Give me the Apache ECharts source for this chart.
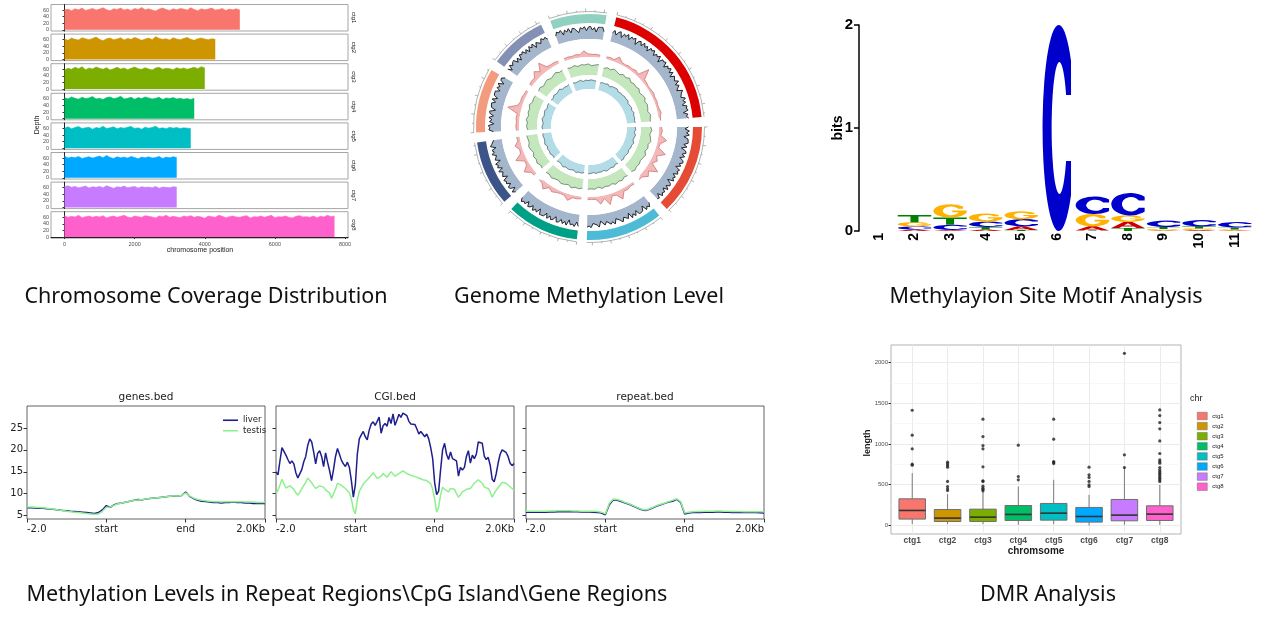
<!DOCTYPE html>
<html>
<head>
<meta charset="utf-8">
<title>methylation report</title>
<script src="https://cdn.jsdelivr.net/npm/echarts@6/dist/echarts.min.js"></script>
<style>
  html, body { margin: 0; padding: 0; background: #fff; }
  #main { width: 1268px; height: 617px; }
</style>
</head>
<body>
<div id="main"></div>
<script>
// ---------------- data ----------------
var ctgNames = ['ctg1', 'ctg2', 'ctg3', 'ctg4', 'ctg5', 'ctg6', 'ctg7', 'ctg8'];
var ctgColors = ['#F8766D', '#CD9600', '#7CAE00', '#00BE67', '#00BFC4', '#00A9FF', '#C77CFF', '#FF61CC'];

// depth per 100 bp bin
var depthBin = 100;
var depthCtg1 = [60,63,58,64,61,66,59,62,65,60,63,67,61,58,64,62,66,60,63,59,65,62,68,61,64,60,57,63,66,62,59,64,61,65,63,60,67,62,58,64,61,63,66,60,62,65,59,63,61,64,60];
var depthCtg2 = [62,58,65,61,59,66,63,60,64,68,61,57,63,65,60,62,66,59,64,61,67,63,58,62,65,60,69,64,61,63,59,66,62,60,64,67,61,58,63,65,62,60,63,61];
var depthCtg3 = [58,63,60,66,62,68,59,64,61,67,63,60,65,58,62,66,61,64,59,63,67,62,60,65,61,58,64,66,60,63,62,59,65,61,64,60,63,66,62,68,64];
var depthCtg4 = [64,60,66,62,59,65,61,63,67,60,62,58,64,66,61,63,68,60,62,65,59,64,61,66,63,60,62,65,58,63,61,64,60,62,59,61,58,62];
var depthCtg5 = [61,65,59,63,66,60,62,64,58,63,61,67,60,62,65,59,63,61,64,66,60,62,58,64,61,63,67,60,62,59,64,61,63,60,62,61,60];
var depthCtg6 = [66,60,63,61,65,59,62,64,60,63,66,61,68,62,59,64,61,63,60,65,62,58,63,61,64,60,62,65,59,63,61,64,62];
var depthCtg7 = [63,66,61,64,60,62,65,59,63,61,64,60,66,62,58,63,61,65,60,62,64,59,63,61,62,60,64,58,62,61,60,63,62];
var depthCtg8 = [65,60,63,61,66,59,62,64,60,63,61,65,58,62,64,60,63,66,61,59,64,62,60,65,63,61,58,64,62,66,60,63,61,59,64,62,65,60,63,61,57,64,62,60,66,63,59,62,64,61,60,63,65,58,62,61,64,60,63,66,59,62,61,64,60,58,63,65,61,62,60,64,59,63,61,66,62,64];
var depthTicks = [0, 20, 40, 60];
var posTicks = [0, 2000, 4000, 6000, 8000];

// circos
var circLen = [7700, 5050, 4300, 4050, 3650, 3600, 3200, 3150];
var circColors = ['#DC0000', '#E64B35', '#4DBBD5', '#00A087', '#3C5488', '#F39B7F', '#8491B4', '#91D1C2'];
var circBlack = [
  [0.7,0.92,0.6,0.85,0.97,0.55,0.88,0.74,0.99,0.62,0.9,0.8,0.95,0.5,0.86,0.93,0.66,0.98,0.72,0.89,0.58,0.94,0.83,0.99,0.64,0.87,0.76,0.96,0.52,0.91,0.85,0.97,0.6,0.9,0.78,0.99,0.68,0.93,0.56,0.88,0.95,0.7,0.98,0.63,0.86,0.92,0.54,0.97,0.8,0.89,0.66,0.99,0.74,0.91,0.6,0.95,0.84,0.98,0.58,0.9,0.77,0.94],
  [0.88,0.62,0.96,0.75,0.99,0.57,0.9,0.83,0.97,0.65,0.92,0.52,0.87,0.98,0.7,0.94,0.6,0.89,0.99,0.73,0.9,0.56,0.95,0.82,0.98,0.64,0.91,0.77,0.96,0.5,0.86,0.93,0.68,0.99,0.61,0.9,0.8,0.97,0.59,0.92,0.85],
  [0.64,0.93,0.78,0.99,0.55,0.9,0.86,0.97,0.6,0.94,0.72,0.98,0.52,0.89,0.95,0.67,0.99,0.81,0.92,0.58,0.96,0.74,0.9,0.99,0.62,0.87,0.94,0.53,0.97,0.79,0.91,0.66,0.98,0.85,0.93],
  [0.92,0.6,0.97,0.8,0.89,0.54,0.99,0.73,0.94,0.66,0.9,0.98,0.58,0.86,0.95,0.7,0.99,0.62,0.91,0.84,0.97,0.56,0.93,0.77,0.99,0.65,0.88,0.95,0.6,0.92,0.82,0.98,0.7],
  [0.75,0.97,0.58,0.9,0.99,0.66,0.93,0.84,0.98,0.55,0.89,0.95,0.7,0.99,0.6,0.92,0.8,0.97,0.52,0.88,0.94,0.68,0.99,0.76,0.91,0.57,0.96,0.83,0.93,0.64],
  [0.6,0.94,0.85,0.99,0.56,0.9,0.72,0.97,0.63,0.92,0.98,0.54,0.88,0.8,0.96,0.67,0.99,0.59,0.91,0.86,0.97,0.62,0.93,0.75,0.99,0.57,0.9,0.95,0.7],
  [0.9,0.58,0.97,0.76,0.92,0.99,0.62,0.88,0.55,0.95,0.83,0.98,0.68,0.91,0.6,0.96,0.74,0.99,0.57,0.9,0.94,0.65,0.98,0.8,0.92,0.7],
  [0.68,0.95,0.82,0.99,0.57,0.91,0.74,0.97,0.6,0.93,0.88,0.99,0.53,0.9,0.79,0.96,0.64,0.92,0.98,0.7,0.89,0.56,0.95,0.84,0.99,0.66]
];
var circPink = [
  [0.14,0.17,0.12,0.4,0.16,0.13,0.18,0.15,0.22,0.14,0.8,0.2,0.16,0.12,0.15,0.19,0.14,0.17,0.13,0.16,0.22,0.14,0.12],
  [0.16,0.22,0.14,0.55,0.2,0.17,0.7,0.22,0.4,0.18,0.75,0.25,0.45,0.19,0.16],
  [0.17,0.14,0.22,0.19,0.6,0.22,0.16,0.65,0.2,0.5,0.18,0.15,0.17],
  [0.14,0.18,0.16,0.4,0.17,0.15,0.2,0.3,0.16,0.45,0.19,0.15],
  [0.17,0.22,0.55,0.2,0.16,0.65,0.22,0.18,0.4,0.16,0.19],
  [0.16,0.2,0.17,0.22,0.18,0.85,0.27,0.19,0.22,0.17,0.15],
  [0.18,0.22,0.2,0.5,0.24,0.7,0.22,0.19,0.21,0.17],
  [0.17,0.19,0.16,0.22,0.18,0.4,0.2,0.17,0.19,0.16]
];
var circGreen = [
  [0.6,0.72,0.65,0.8,0.7,0.62,0.76,0.68,0.82,0.66,0.74,0.7,0.78,0.64,0.72,0.8,0.67,0.75,0.7,0.63,0.77,0.71,0.68],
  [0.7,0.78,0.66,0.74,0.82,0.69,0.76,0.64,0.8,0.72,0.67,0.75,0.7,0.79,0.68],
  [0.72,0.65,0.78,0.7,0.8,0.66,0.74,0.69,0.77,0.63,0.75,0.71,0.73],
  [0.68,0.76,0.7,0.82,0.65,0.74,0.79,0.67,0.72,0.8,0.69,0.75],
  [0.74,0.68,0.8,0.71,0.77,0.64,0.75,0.82,0.7,0.73,0.78],
  [0.66,0.75,0.7,0.8,0.68,0.76,0.72,0.84,0.69,0.74,0.71],
  [0.7,0.78,0.65,0.73,0.8,0.68,0.75,0.85,0.72,0.77],
  [0.75,0.7,0.8,0.68,0.77,0.73,0.79,0.66,0.74,0.8]
];
var circCyan = [
  [0.62,0.7,0.66,0.75,0.6,0.72,0.68,0.78,0.64,0.71,0.67,0.74,0.69,0.76,0.63,0.7,0.73,0.65,0.77,0.68,0.72,0.66,0.7],
  [0.68,0.74,0.63,0.77,0.7,0.66,0.8,0.69,0.73,0.64,0.75,0.71,0.67,0.76,0.7],
  [0.7,0.64,0.76,0.68,0.73,0.79,0.66,0.72,0.69,0.75,0.65,0.71,0.74],
  [0.66,0.73,0.69,0.78,0.64,0.71,0.75,0.68,0.8,0.7,0.65,0.72],
  [0.72,0.67,0.77,0.7,0.74,0.65,0.79,0.71,0.68,0.75,0.7],
  [0.69,0.76,0.66,0.73,0.8,0.68,0.72,0.77,0.64,0.71,0.74],
  [0.71,0.65,0.78,0.7,0.74,0.83,0.67,0.73,0.69,0.76],
  [0.74,0.68,0.72,0.79,0.66,0.75,0.7,0.77,0.73,0.7]
];

// motif logo (bits per letter)
var logoPos = [1, 2, 3, 4, 5, 6, 7, 8, 9, 10, 11];
var logoA = [0, 0.015, 0.01, 0.015, 0.035, 0, 0.04, 0.06, 0.005, 0.01, 0.005];
var logoC = [0, 0.03, 0.05, 0.05, 0.07, 2.0, 0.17, 0.22, 0.06, 0.06, 0.05];
var logoG = [0, 0.04, 0.13, 0.08, 0.075, 0, 0.12, 0.06, 0.015, 0.015, 0.01];
var logoT = [0, 0.07, 0.07, 0.025, 0.01, 0, 0.005, 0.03, 0.02, 0.02, 0.02];
var bitTicks = [0, 1, 2];

// methylation profiles
var profileTicks = [0, 1, 2, 3];
var profileLabels = ['-2.0', 'start', 'end', '2.0Kb'];
var profileYTicks = [5, 10, 15, 20, 25];
var genesLiver = [6.8,6.8,6.75,6.7,6.7,6.6,6.5,6.4,6.3,6.2,6.1,6.0,5.95,5.9,5.8,5.7,5.6,5.5,5.7,6.3,7.3,6.9,7.5,7.8,7.9,8.1,8.3,8.5,8.7,8.6,8.8,8.9,9.0,9.1,9.2,9.3,9.4,9.4,9.5,9.6,10.4,9.4,8.9,8.5,8.3,8.2,8.1,8.0,8.0,7.9,8.0,8.0,8.1,8.0,8.0,7.9,7.9,7.8,7.8,7.8,7.8];
var genesTestis = [7.0,6.95,6.9,6.85,6.8,6.7,6.6,6.45,6.3,6.2,6.0,5.9,5.8,5.7,5.6,5.5,5.4,5.3,5.4,6.0,6.9,7.0,7.4,7.7,7.9,8.1,8.3,8.5,8.6,8.7,8.8,8.9,9.0,9.1,9.2,9.3,9.4,9.5,9.5,9.6,10.2,9.5,9.0,8.7,8.5,8.4,8.3,8.2,8.2,8.1,8.2,8.2,8.2,8.2,8.2,8.1,8.1,8.1,8.0,8.0,8.0];
var cgiLiver = [15.0,14.3,17.5,20.5,20.8,18.8,17.8,16.9,17.5,16.8,14.8,13.6,14.0,15.5,17.3,18.5,21.0,22.5,21.8,19.5,16.8,19.2,19.8,18.5,16.2,19.3,17.2,15.3,13.0,15.5,18.5,20.3,19.0,17.6,16.8,16.2,17.2,16.0,13.0,9.2,12.0,19.0,22.5,23.4,24.2,23.0,22.3,24.5,25.9,26.4,25.6,26.5,27.5,23.8,25.5,26.0,25.4,27.4,26.0,28.2,25.6,26.8,28.1,27.4,28.4,28.8,27.8,26.5,25.9,26.0,25.8,24.8,23.6,24.2,23.6,23.0,23.6,22.5,20.5,18.0,12.5,9.8,10.6,15.5,20.0,21.5,19.0,17.8,19.5,18.0,18.2,17.5,14.0,16.0,15.4,16.0,18.5,19.8,17.0,18.8,18.0,19.0,21.8,22.2,21.5,18.6,17.8,18.3,16.5,13.3,12.7,14.5,17.0,19.0,20.0,19.6,19.4,18.5,17.0,16.4,16.9];
var cgiTestis = [10.0,10.8,12.0,13.3,12.3,11.3,11.6,11.8,11.5,11.0,10.2,9.7,10.3,11.2,11.6,12.6,13.6,13.8,12.5,11.8,11.2,11.6,11.8,11.4,11.5,10.9,10.5,10.2,9.0,9.2,11.0,12.4,12.6,11.9,11.5,11.2,11.0,10.2,8.8,6.5,5.4,8.6,10.5,11.4,12.2,12.6,13.2,13.6,14.2,14.8,14.6,13.5,13.1,14.0,14.6,14.2,13.8,14.4,15.0,14.5,14.0,14.2,14.6,14.8,15.2,15.0,14.6,14.4,14.2,14.0,13.9,13.8,13.6,13.5,13.2,13.3,13.0,12.6,12.3,11.0,8.8,5.8,7.0,9.8,11.5,11.0,10.6,10.4,11.2,11.6,11.0,10.0,9.2,9.8,10.4,10.8,11.0,11.4,11.2,11.8,12.4,12.7,13.2,13.5,12.4,11.5,11.6,11.2,10.4,9.2,9.6,10.8,11.2,12.0,12.6,12.7,12.4,12.3,11.6,11.2,10.8];
var repeatLiver = [5.8,5.8,5.8,5.8,5.8,5.8,5.85,5.85,5.9,5.9,5.95,5.9,5.9,5.9,5.85,5.85,5.85,5.8,5.75,5.6,5.2,7.5,8.6,8.5,8.2,7.9,7.6,7.2,6.8,6.4,6.2,6.4,6.8,7.2,7.5,7.8,8.1,8.3,8.7,8.0,5.4,5.6,5.7,5.75,5.75,5.8,5.8,5.8,5.85,5.85,5.8,5.8,5.75,5.75,5.75,5.7,5.7,5.7,5.7,5.65,5.6];
var repeatTestis = [6.0,6.0,6.0,6.0,6.0,6.0,6.05,6.05,6.1,6.1,6.1,6.1,6.05,6.05,6.0,6.0,6.0,6.0,5.95,5.8,5.4,7.8,8.8,8.7,8.4,8.0,7.7,7.3,6.9,6.5,6.3,6.5,6.9,7.3,7.6,7.9,8.2,8.5,8.85,8.2,5.6,5.8,5.9,5.95,5.95,6.0,6.0,6.0,6.05,6.05,6.0,6.0,5.95,5.95,5.95,5.9,5.9,5.9,5.9,5.9,5.9];

// DMR length boxplot: [lower whisker, Q1, median, Q3, upper whisker]
var boxStats = [
  [16, 78, 184, 327, 642],
  [16, 49, 90, 196, 384],
  [16, 49, 102, 200, 417],
  [8, 61, 135, 245, 478],
  [16, 65, 151, 270, 560],
  [0, 41, 110, 221, 376],
  [8, 57, 127, 319, 711],
  [8, 61, 139, 241, 499]
];
var boxOutliers = [
  [1414, 1108, 940, 752, 740],
  [777, 756, 736, 715, 540, 478, 450, 429],
  [1304, 1091, 981, 940, 720, 548, 540, 482, 458, 441, 425],
  [985, 601, 560],
  [1304, 1059, 785, 773, 760],
  [715, 621, 589, 540, 499, 478],
  [2113, 867, 711],
  [1418, 1349, 1263, 1186, 1038, 883, 805, 785, 764, 711, 683, 662, 642, 621, 601, 580, 560, 540]
];
var lengthTicks = [0, 500, 1000, 1500, 2000];
var lengthMinor = [250, 750, 1250, 1750];

// ---------------- chart ----------------
var SANS = '"Liberation Sans", Arial, sans-serif';
var NOTO = '"Noto Sans", sans-serif';
var MPL = '"DejaVu Sans", sans-serif';
function plain(v) { return String(v); }

var chart = echarts.init(document.getElementById('main'));
var grid = [], xAxis = [], yAxis = [], series = [], graphic = [];

function txt(x, y, s, size, opt) {
  opt = opt || {};
  graphic.push({
    type: 'text', x: x, y: y, rotation: opt.rot || 0, silent: true,
    style: {
      text: s, fontSize: size, fontFamily: opt.family || SANS, fontWeight: opt.weight || 'normal',
      fill: opt.color || '#1a1a1a', textAlign: opt.align || 'center', textVerticalAlign: 'middle'
    }
  });
}

// --- coverage facets
var depthRows = [depthCtg1, depthCtg2, depthCtg3, depthCtg4, depthCtg5, depthCtg6, depthCtg7, depthCtg8];
depthRows.forEach(function (row, k) {
  var top = 4.5 + k * 29.6;
  var last = k === depthRows.length - 1;
  grid.push({ left: 51, top: top, width: 297, height: 26.5, show: true, borderColor: '#a6a6a6', borderWidth: 1 });
  var g = grid.length - 1;
  xAxis.push({
    type: 'value', gridIndex: g, min: -385, max: 8085,
    axisLine: { show: last, lineStyle: { color: '#222', width: 1 } },
    axisTick: { show: last, customValues: posTicks, length: 2, lineStyle: { color: '#333' } },
    axisLabel: { show: last, customValues: posTicks, formatter: plain, fontSize: 5.5, color: '#4d4d4d', margin: 3, fontFamily: SANS },
    splitLine: { show: false }
  });
  yAxis.push({
    type: 'value', gridIndex: g, min: -3.5, max: 77,
    axisLine: { show: true, lineStyle: { color: '#222', width: 1 } },
    axisTick: { show: true, customValues: depthTicks, length: 2, lineStyle: { color: '#333' } },
    axisLabel: { customValues: depthTicks, formatter: plain, fontSize: 5.5, color: '#4d4d4d', margin: 2, fontFamily: SANS },
    splitLine: { show: false }
  });
  series.push({
    type: 'line', xAxisIndex: g, yAxisIndex: g, symbol: 'none', silent: true, animation: false,
    data: row.map(function (v, i) { return [i * depthBin, v]; }),
    lineStyle: { width: 0.6, color: ctgColors[k] },
    areaStyle: { color: ctgColors[k], opacity: 1 }
  });
  txt(354, top + 13.25, ctgNames[k], 6, { rot: -Math.PI / 2 });
});
txt(37, 125, 'Depth', 7, { rot: Math.PI / 2 });
txt(200, 250, 'chromosome position', 7);

// --- motif logo
var letterPaths = {
  A: 'M38,0 L62,0 L100,100 L76,100 L68,78 L32,78 L24,100 L0,100 Z M38,60 L62,60 L50,26 Z',
  C: 'M88,17.5 A50,50 0 1 0 88,82.5 L88,66 L72.8,66 A24,32 0 1 1 72.8,34 L88,34 Z',
  G: 'M88,17.5 A50,50 0 1 0 99,60 L99,46 L56,46 L56,60 L74.8,60 A24,32 0 1 1 72.8,34 L88,34 Z',
  T: 'M0,0 L100,0 L100,20 L62,20 L62,100 L38,100 L38,20 L0,20 Z'
};
var letterColors = { A: '#CC0000', C: '#0000CC', G: '#FFB300', T: '#008000' };
var letterKeys = ['A', 'C', 'G', 'T'];
var logoData = [];
logoPos.forEach(function (p, i) {
  var stack = [[0, logoA[i]], [1, logoC[i]], [2, logoG[i]], [3, logoT[i]]];
  stack.sort(function (a, b) { return a[1] - b[1]; });
  var y = 0;
  stack.forEach(function (s) {
    if (s[1] > 0) { logoData.push([p, y, y + s[1], s[0]]); y += s[1]; }
  });
});
grid.push({ left: 859, top: 25, width: 397, height: 206 });
var gLogo = grid.length - 1;
xAxis.push({
  type: 'value', gridIndex: gLogo, min: 0.44, max: 11.6,
  axisLine: { show: false }, axisTick: { show: false }, splitLine: { show: false },
  axisLabel: { customValues: logoPos, rotate: 90, fontSize: 14, fontWeight: 'bold', color: '#000', margin: 2, fontFamily: SANS }
});
yAxis.push({
  type: 'value', gridIndex: gLogo, min: 0, max: 2,
  axisLine: { show: true, lineStyle: { color: '#000', width: 1.5 } },
  axisTick: { show: true, customValues: bitTicks, length: 5, lineStyle: { color: '#000', width: 1.5 } },
  axisLabel: { customValues: bitTicks, fontSize: 15, fontWeight: 'bold', color: '#000', margin: 6, fontFamily: SANS },
  splitLine: { show: false }
});
series.push({
  type: 'custom', xAxisIndex: gLogo, yAxisIndex: gLogo, silent: true, animation: false,
  data: logoData, encode: { x: 0, y: [1, 2] },
  renderItem: function (params, api) {
    var p = api.value(0), key = letterKeys[api.value(3)];
    var half = api.value(2) - api.value(1) > 1 ? 0.4 : 0.47;
    var a = api.coord([p - half, api.value(1)]);
    var b = api.coord([p + half, api.value(2)]);
    var h = a[1] - b[1];
    if (h < 0.4) return null;
    return {
      type: 'path',
      shape: { pathData: letterPaths[key], x: a[0], y: b[1], width: b[0] - a[0], height: h, layout: 'cover' },
      style: { fill: letterColors[key] }
    };
  }
});
txt(838, 128, 'bits', 14, { rot: Math.PI / 2, weight: 'bold', color: '#000' });

// --- methylation profiles
var profiles = [
  { left: 27, title: 'genes.bed', liver: genesLiver, testis: genesTestis },
  { left: 276, title: 'CGI.bed', liver: cgiLiver, testis: cgiTestis },
  { left: 526, title: 'repeat.bed', liver: repeatLiver, testis: repeatTestis }
];
profiles.forEach(function (pf, j) {
  grid.push({ left: pf.left, top: 406, width: 238, height: 113, show: true, borderColor: '#3a3a3a', borderWidth: 0.8 });
  var g = grid.length - 1;
  xAxis.push({
    type: 'value', gridIndex: g, min: 0, max: 3,
    axisLine: { show: false }, splitLine: { show: false },
    axisTick: { show: true, customValues: profileTicks, length: 3.5, lineStyle: { color: '#333' } },
    axisLabel: {
      customValues: profileTicks, fontSize: 10, color: '#222', margin: 5, fontFamily: MPL,
      alignMinLabel: 'left', alignMaxLabel: 'right',
      formatter: function (v) { return profileLabels[profileTicks.indexOf(v)]; }
    }
  });
  yAxis.push({
    type: 'value', gridIndex: g, min: 4.24, max: 30,
    axisLine: { show: false }, splitLine: { show: false },
    axisTick: { show: true, customValues: profileYTicks, length: 3.5, lineStyle: { color: '#333' } },
    axisLabel: { show: j === 0, customValues: profileYTicks, fontSize: 10, color: '#222', margin: 4, fontFamily: MPL }
  });
  [['liver', pf.liver, '#1E1E8C'], ['testis', pf.testis, '#8EF08E']].forEach(function (s) {
    series.push({
      name: s[0], type: 'line', xAxisIndex: g, yAxisIndex: g, symbol: 'none', silent: true, animation: false,
      data: s[1].map(function (v, i) { return [3 * i / (s[1].length - 1), v]; }),
      lineStyle: { width: 1.5, color: s[2] }, itemStyle: { color: s[2] }
    });
  });
  txt(pf.left + 119, 397, pf.title, 10.5, { family: MPL, color: '#222' });
});

// --- DMR boxplot
grid.push({ left: 891, top: 345, width: 290, height: 189, show: true, borderColor: '#b3b3b3', borderWidth: 1 });
var gBox = grid.length - 1;
xAxis.push({
  type: 'value', gridIndex: gBox, min: 0.4, max: 8.6,
  axisLine: { show: false }, splitLine: { show: false },
  axisTick: { show: true, customValues: [1, 2, 3, 4, 5, 6, 7, 8], length: 2.5, lineStyle: { color: '#333' } },
  axisLabel: {
    customValues: [1, 2, 3, 4, 5, 6, 7, 8], fontSize: 8.5, fontWeight: 'bold', color: '#4d4d4d', margin: 2, fontFamily: SANS,
    formatter: function (v) { return ctgNames[v - 1]; }
  }
});
yAxis.push({
  type: 'value', gridIndex: gBox, min: -105, max: 2215,
  axisLine: { show: false }, splitLine: { show: false },
  axisTick: { show: true, customValues: lengthTicks, length: 2.5, lineStyle: { color: '#333' } },
  axisLabel: { customValues: lengthTicks, formatter: plain, fontSize: 6, color: '#4d4d4d', margin: 3, fontFamily: SANS }
});
var gridLines = [];
[1, 2, 3, 4, 5, 6, 7, 8].forEach(function (x) { gridLines.push({ xAxis: x, lineStyle: { color: '#ebebeb', width: 1, type: 'solid' } }); });
lengthTicks.forEach(function (y) { gridLines.push({ yAxis: y, lineStyle: { color: '#ebebeb', width: 1, type: 'solid' } }); });
lengthMinor.forEach(function (y) { gridLines.push({ yAxis: y, lineStyle: { color: '#f3f3f3', width: 0.6, type: 'solid' } }); });
series.push({
  type: 'scatter', xAxisIndex: gBox, yAxisIndex: gBox, data: [], silent: true, animation: false, z: 1,
  markLine: { silent: true, symbol: 'none', label: { show: false }, animation: false, data: gridLines }
});
boxStats.forEach(function (st, k) {
  series.push({
    name: ctgNames[k], type: 'custom', xAxisIndex: gBox, yAxisIndex: gBox, silent: true, animation: false, z: 10,
    itemStyle: { color: ctgColors[k] },
    data: [[k + 1].concat(st)], encode: { x: 0, y: [1, 5] },
    renderItem: function (params, api) {
      var x = api.value(0);
      var lo = api.coord([x, api.value(1)]);
      var q1 = api.coord([x - 0.375, api.value(2)]);
      var md = api.coord([x, api.value(3)]);
      var q3 = api.coord([x + 0.375, api.value(4)]);
      var hi = api.coord([x, api.value(5)]);
      var w = { stroke: '#7a7a7a', lineWidth: 1 };
      return {
        type: 'group', children: [
          { type: 'line', shape: { x1: lo[0], y1: lo[1], x2: lo[0], y2: q1[1] }, style: w },
          { type: 'line', shape: { x1: hi[0], y1: hi[1], x2: hi[0], y2: q3[1] }, style: w },
          { type: 'rect', shape: { x: q1[0], y: q3[1], width: q3[0] - q1[0], height: q1[1] - q3[1] },
            style: { fill: ctgColors[k], stroke: '#6e6e6e', lineWidth: 1 } },
          { type: 'line', shape: { x1: q1[0], y1: md[1], x2: q3[0], y2: md[1] }, style: { stroke: '#333', lineWidth: 1.6 } }
        ]
      };
    }
  });
});
var outlierData = [];
boxOutliers.forEach(function (list, k) { list.forEach(function (v) { outlierData.push([k + 1, v]); }); });
series.push({
  type: 'scatter', xAxisIndex: gBox, yAxisIndex: gBox, data: outlierData, silent: true, animation: false, z: 11,
  symbolSize: 3.2, itemStyle: { color: '#222' }
});
txt(868, 443, 'length', 9, { rot: Math.PI / 2, weight: 'bold' });
txt(1036, 551, 'chromsome', 10, { weight: 'bold' });
txt(1190, 399, 'chr', 9, { align: 'left' });

// --- circos
var circGap = 550;
var circStart = [];
var acc = 0;
circLen.forEach(function (L) { circStart.push(acc); acc += L + circGap; });
var circTotal = acc;
var circCenter = [589, 127];
var circRings = [[104, 113], [88, 101], [70, 86], [52, 66], [38, 50]];
var polar = [], angleAxis = [], radiusAxis = [];
circRings.forEach(function (r, i) {
  polar.push({ center: circCenter, radius: r });
  angleAxis.push({ polarIndex: i, type: 'value', min: 0, max: circTotal, startAngle: 76, clockwise: true, show: false });
  radiusAxis.push({ polarIndex: i, type: 'value', min: 0, max: 1, show: false });
});
series.push({
  type: 'custom', coordinateSystem: 'polar', polarIndex: 0, silent: true, animation: false,
  data: circLen.map(function (L, k) { return [0.5, circStart[k], circStart[k] + L]; }),
  encode: { radius: 0, angle: [1, 2] },
  renderItem: function (params, api) {
    var cs = params.coordSys;
    var s = api.value(1), e = api.value(2);
    function ang(v) { var q = api.coord([1, v]); return Math.atan2(q[1] - cs.cy, q[0] - cs.cx); }
    var a0 = ang(s), a1 = ang(e);
    var kids = [
      { type: 'sector', shape: { cx: cs.cx, cy: cs.cy, r0: cs.r0, r: cs.r, startAngle: a0, endAngle: a1, clockwise: true },
        style: { fill: circColors[params.dataIndex] } },
      { type: 'arc', shape: { cx: cs.cx, cy: cs.cy, r: cs.r + 2.5, startAngle: a0, endAngle: a1, clockwise: true },
        style: { stroke: '#666', lineWidth: 0.5, fill: null } }
    ];
    for (var t = 0; t <= e - s; t += 500) {
      var a = ang(s + t), len = t % 1000 === 0 ? 3 : 1.5;
      kids.push({ type: 'line', shape: {
        x1: cs.cx + (cs.r + 2.5) * Math.cos(a), y1: cs.cy + (cs.r + 2.5) * Math.sin(a),
        x2: cs.cx + (cs.r + 2.5 + len) * Math.cos(a), y2: cs.cy + (cs.r + 2.5 + len) * Math.sin(a) },
        style: { stroke: '#666', lineWidth: 0.5 } });
    }
    return { type: 'group', children: kids };
  }
});
function addTrack(pi, arrs, fill, stroke, lw) {
  arrs.forEach(function (vals, k) {
    var L = circLen[k], st = circStart[k];
    series.push({
      type: 'line', coordinateSystem: 'polar', polarIndex: pi, symbol: 'none', silent: true, animation: false,
      data: vals.map(function (v, i) { return [v, st + L * i / (vals.length - 1)]; }),
      lineStyle: { color: stroke, width: lw },
      areaStyle: { color: fill, opacity: 1 }
    });
  });
}
addTrack(1, circBlack, '#A3B6CC', '#111111', 0.9);
addTrack(2, circPink, '#F3B8B8', '#C96A6C', 0.7);
addTrack(3, circGreen, '#C5E7BD', '#35553A', 0.6);
addTrack(4, circCyan, '#B3DCE7', '#263F48', 0.6);

// --- captions
txt(206, 297, 'Chromosome Coverage Distribution', 21.5, { family: NOTO, color: '#111' });
txt(589, 297, 'Genome Methylation Level', 21.5, { family: NOTO, color: '#111' });
txt(1046, 297, 'Methylayion Site Motif Analysis', 21.5, { family: NOTO, color: '#111' });
txt(347, 595, 'Methylation Levels in Repeat Regions\\CpG Island\\Gene Regions', 21.5, { family: NOTO, color: '#111' });
txt(1048, 595, 'DMR Analysis', 21.5, { family: NOTO, color: '#111' });

chart.setOption({
  animation: false,
  backgroundColor: '#fff',
  grid: grid, xAxis: xAxis, yAxis: yAxis,
  polar: polar, angleAxis: angleAxis, radiusAxis: radiusAxis,
  legend: [
    {
      data: ['liver', 'testis'], left: 218, top: 410, orient: 'vertical', icon: 'rect',
      itemWidth: 15, itemHeight: 1.6, itemGap: 0, selectedMode: false,
      textStyle: { fontSize: 8.5, color: '#222', fontFamily: MPL, lineHeight: 10.5 }
    },
    {
      data: ctgNames, left: 1192, top: 407, orient: 'vertical', icon: 'rect',
      itemWidth: 10, itemHeight: 7.5, itemGap: 2.1, selectedMode: false,
      itemStyle: { borderColor: '#6e6e6e', borderWidth: 0.5 },
      textStyle: { fontSize: 6, color: '#1a1a1a', fontFamily: SANS }
    }
  ],
  graphic: graphic,
  series: series
});
</script>
</body>
</html>
